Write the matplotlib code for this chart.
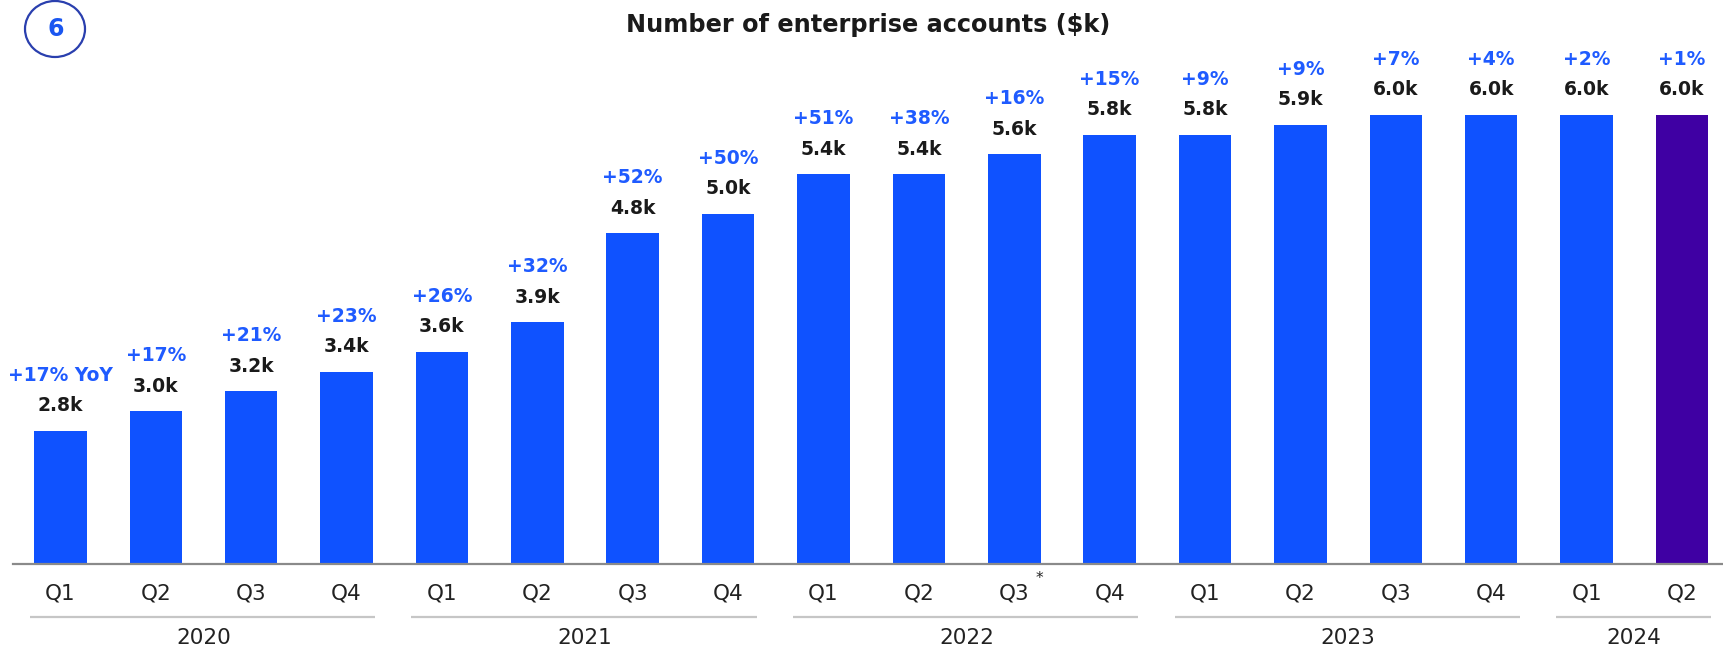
import matplotlib
matplotlib.use("Agg")
import matplotlib.pyplot as plt
from matplotlib.patches import Ellipse
from matplotlib.transforms import blended_transform_factory

# Quarterly enterprise accounts ($k) and year-over-year growth
quarters = ["Q1", "Q2", "Q3", "Q4",
            "Q1", "Q2", "Q3", "Q4",
            "Q1", "Q2", "Q3", "Q4",
            "Q1", "Q2", "Q3", "Q4",
            "Q1", "Q2"]
years = ["2020", "2021", "2022", "2023", "2024"]
quarters_per_year = [4, 4, 4, 4, 2]
accounts_k = [2.8, 3.0, 3.2, 3.4,
              3.6, 3.9, 4.8, 5.0,
              5.4, 5.4, 5.6, 5.8,
              5.8, 5.9, 6.0, 6.0,
              6.0, 6.0]
yoy_growth = ["+17% YoY", "+17%", "+21%", "+23%",
              "+26%", "+32%", "+52%", "+50%",
              "+51%", "+38%", "+16%", "+15%",
              "+9%", "+9%", "+7%", "+4%",
              "+2%", "+1%"]
footnote_index = 10  # Q3 2022 carries an asterisk

BLUE = "#0f52ff"
PURPLE = "#3f00a3"
PCT_BLUE = "#1f5bff"
DARK = "#1a1a1a"
AXIS_GRAY = "#8a8a8a"
LINE_GRAY = "#c6c6c6"

W, H = 1723, 650
fig = plt.figure(figsize=(W / 100, H / 100), dpi=100)

# axes: left edge at ~13px, baseline at 564px from top
left_px, base_px = 12.7, 564
ax = fig.add_axes([left_px / W, (H - base_px) / H, (W - left_px) / W, base_px / H])

y0 = 1.45
px_per_k = 98.7
ax.set_xlim(-0.5, 17.43)
ax.set_ylim(y0, y0 + base_px / px_per_k)

x = list(range(len(accounts_k)))
colors = [BLUE] * (len(accounts_k) - 1) + [PURPLE]
ax.bar(x, [v - y0 for v in accounts_k], bottom=y0, width=0.55, color=colors, zorder=2)

val_font = dict(family="DejaVu Sans", weight="bold", size=13.5)
for xi, v, g in zip(x, accounts_k, yoy_growth):
    ax.annotate(f"{v:.1f}k", (xi, v), xytext=(0, 25 * 0.72), textcoords="offset points",
                ha="center", va="center", color=DARK, **val_font)
    ax.annotate(g, (xi, v), xytext=(0, 55.5 * 0.72), textcoords="offset points",
                ha="center", va="center", color=PCT_BLUE, **val_font)

for s in ["top", "right", "left"]:
    ax.spines[s].set_visible(False)
ax.spines["bottom"].set_color(AXIS_GRAY)
ax.spines["bottom"].set_linewidth(1.6)
ax.set_xticks([])
ax.set_yticks([])

# category labels below the axis
tr = blended_transform_factory(ax.transData, fig.transFigure)
lab_font = dict(family="DejaVu Sans", size=15.5, color="#222222")
for xi, q in zip(x, quarters):
    ax.text(xi, (H - 594) / H, q, transform=tr, ha="center", va="center", **lab_font)
ax.text(footnote_index + 0.26, (H - 578) / H, "*", transform=tr, ha="center", va="center",
        family="DejaVu Sans", size=11, color="#222222")

start = 0
for yr, n in zip(years, quarters_per_year):
    end = start + n - 1
    ax.plot([start - 0.32, end + 0.3], [(H - 617) / H] * 2, transform=tr,
            color=LINE_GRAY, lw=1.6, clip_on=False, solid_capstyle="butt")
    ax.text((start + end) / 2, (H - 638) / H, yr, transform=tr, ha="center", va="center",
            **lab_font)
    start += n

# title and section badge
fig.text(868 / W, 1 - 25 / H, "Number of enterprise accounts ($k)", ha="center", va="center",
         family="DejaVu Sans", weight="bold", size=17.3, color=DARK)
fig.add_artist(Ellipse((55 / W, 1 - 29 / H), 60 / W, 56 / H, transform=fig.transFigure,
                       fill=False, edgecolor="#2a3fae", lw=1.6))
fig.text(56 / W, 1 - 29 / H, "6", ha="center", va="center",
         family="DejaVu Sans", weight="bold", size=17, color="#1a56f0")

fig.savefig("out.png", dpi=100)
